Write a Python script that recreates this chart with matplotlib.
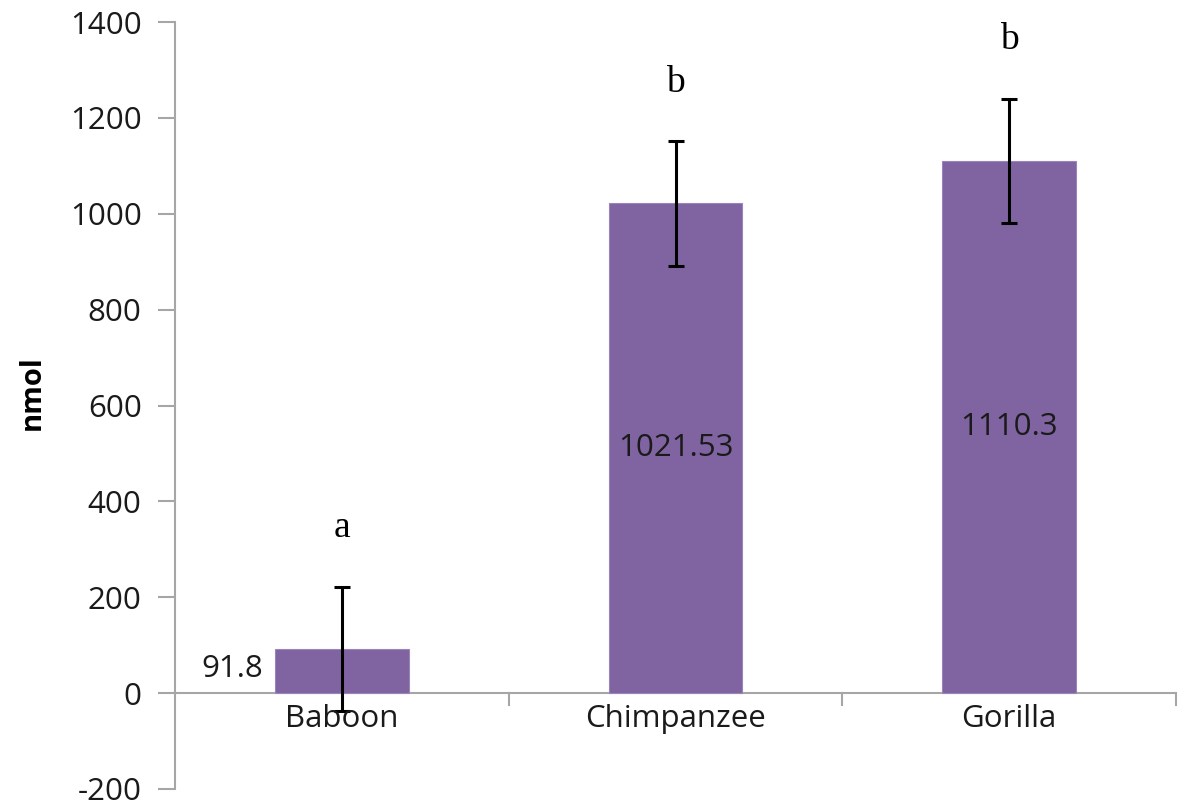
import matplotlib.pyplot as plt
import numpy as np

# datos del grafico
especies = ["Baboon", "Chimpanzee", "Gorilla"]
valores = [91.8, 1021.53, 1110.3]
errores = [130, 130, 129]
etiquetas = ["91.8", "1021.53", "1110.3"]
letras = ["a", "b", "b"]
letras_y = [346, 1274, 1362]
yticks = list(range(-200, 1401, 200))

color_barra = "#8064A2"
gris = "#a6a6a6"
texto = "#1a1a1a"

fig = plt.figure(figsize=(11.82, 8.09), dpi=100)
ax = fig.add_axes([175 / 1182, 20 / 809, (1176 - 175) / 1182, (789 - 22) / 809])

x = np.arange(len(especies))
ax.bar(x, valores, width=0.4, color=color_barra, edgecolor="#9a85b8", linewidth=0.8, zorder=2)
ax.errorbar(x, valores, yerr=errores, fmt="none", ecolor="black", elinewidth=2.2,
            capsize=5.5, capthick=2.2, zorder=3)

ax.set_xlim(-0.5, 2.5)
ax.set_ylim(-200, 1400)
ax.set_yticks(yticks)
ax.set_yticklabels([str(t) for t in yticks], fontfamily="Open Sans", fontsize=22.5, color=texto)
ax.tick_params(axis="y", direction="out", length=12, width=1.5, color=gris, pad=12)

# eje x en cero, sin marcas propias
ax.set_xticks([])
for s in ["top", "right", "bottom"]:
    ax.spines[s].set_visible(False)
ax.spines["left"].set_color(gris)
ax.spines["left"].set_linewidth(1.5)
ax.axhline(0, color=gris, lw=1.5, zorder=1)

# marcas entre categorias
for b in [0.5, 1.5, 2.5]:
    ax.plot([b, b], [0, -25], color=gris, lw=1.5, clip_on=False)

for i, nombre in enumerate(especies):
    ax.text(x[i], -55, nombre, ha="center", va="center", fontfamily="Open Sans",
            fontsize=22.5, color=texto)

# etiquetas de valores
ax.text(x[0] - 0.235, valores[0] / 2 + 5, etiquetas[0], ha="right", va="center",
        fontfamily="Open Sans", fontsize=22.5, color=texto)
for i in [1, 2]:
    ax.text(x[i], valores[i] / 2, etiquetas[i], ha="center", va="center",
            fontfamily="Open Sans", fontsize=22.5, color=texto)

# letras de significancia
for i, l in enumerate(letras):
    ax.text(x[i], letras_y[i], l, ha="center", va="center", fontfamily="Liberation Serif",
            fontsize=27, color="black")

fig.text(32 / 1182, 1 - 393 / 809, "nmol", rotation=90, ha="center", va="center",
         fontfamily="Open Sans", fontweight="bold", fontsize=21)

fig.savefig("out.png", dpi=100)
